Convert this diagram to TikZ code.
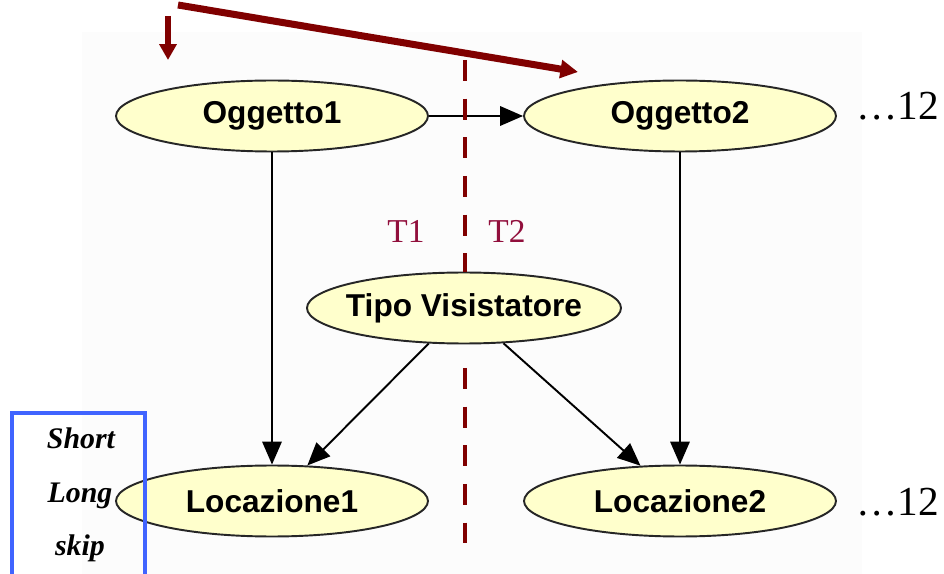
\documentclass[tikz,border=0pt]{standalone}
\usepackage{fontspec}
\setmainfont{Liberation Serif}
\setsansfont{Liberation Sans}
\usepackage{tikz}
\usetikzlibrary{arrows.meta, positioning, shapes.geometric}
\definecolor{myy}   {RGB}{255, 255, 204}
\definecolor{myr}   {RGB}{128, 0, 0}
\definecolor{myt}   {RGB}{145, 15, 60}
\definecolor{myblue}{RGB}{64, 100, 255}

\begin{document}
\begin{tikzpicture}[x=0.02cm, y=-0.02cm,
    var/.style={draw=black!85, line width=1.1pt, ellipse, fill=myy, minimum width=6.24cm, minimum height=1.42cm, inner xsep=-4pt, inner ysep=0pt, font=\sffamily\bfseries\fontsize{18}{20}\selectfont},
    link/.style={-{Triangle[length=13pt,width=11pt]}, line width=1.1pt},
    slice/.style={myr, line width=2.3pt, dash pattern=on 12pt off 10pt},
    tlabel/.style={myt, anchor=base, inner sep=0pt, font=\fontsize{19}{22}\selectfont},
    more/.style={anchor=base west, inner sep=0pt, font=\fontsize{23.5}{26}\selectfont},
    skip/.style={anchor=base, inner sep=0pt, font=\bfseries\itshape\fontsize{17}{20}\selectfont}]
    \useasboundingbox (0,0) rectangle (944,574);
    \fill[black!1] (82,32) rectangle (862,574);

    % network nodes
    \node[var] (ogg1) at (272,116) {Oggetto1};
    \node[var] (ogg2) at (680,116) {Oggetto2};
    \node[var] (tipo) at (464,308) {Tipo Visistatore};
    \node[var] (loc1) at (272,501) {Locazione1};
    \node[var] (loc2) at (680,501) {Locazione2};

    \node[more] (ogg2more) at (856,120) {…12};
    \node[more] (loc2more) at (856,515) {…12};

    \draw[link] (ogg1) -- (ogg2);
    \draw[link] (ogg1) -- (loc1);
    \draw[link] (ogg2) -- (loc2);
    \draw[link] (tipo) -- (loc1);
    \draw[link] (tipo) -- (loc2);

    % time slices
    \coordinate (cuttop) at (465,60);
    \coordinate (cutmid) at (465,368);
    \coordinate (cutbot) at (465,543);
    \draw[slice] (cuttop) -- (cuttop |- tipo.north);
    \draw[slice] (cutmid) -- (cutbot);
    \node[tlabel] (t1) at (406,243) {T1};
    \node[tlabel] (t2) at (507,243) {T2};

    % pointers from the title
    \coordinate (titleA) at (168,16);
    \coordinate (titleB) at (178,5);
    \coordinate (headA) at (168,60);
    \coordinate (headB) at (578,72);
    \draw[myr, line width=3.4pt, -{Triangle[length=9pt,width=9.5pt]}] (titleA) -- (headA);
    \draw[myr, line width=4pt, -{Triangle[length=10pt,width=10pt]}] (titleB) -- (headB);

    % skip box
    \draw[myblue, line width=2.3pt] (12,574) -- (12,413) -- (145,413) -- (145,574);
    \node[skip] (short) at (81,448) {Short};
    \node[skip] (long) at (80,502) {Long};
    \node[skip] (skipw) at (80,555) {skip};
\end{tikzpicture}
\end{document}
